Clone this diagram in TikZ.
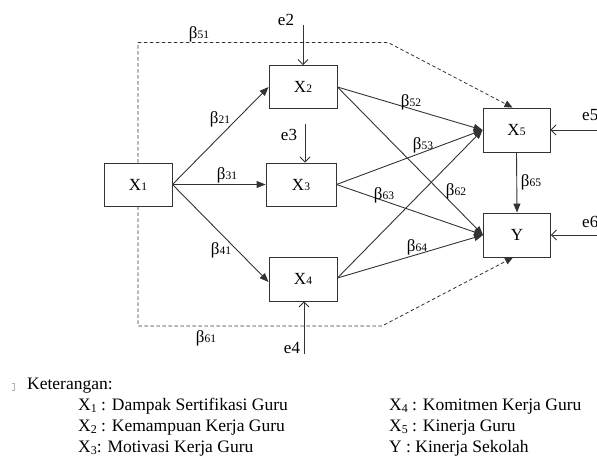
\documentclass[tikz,border=0pt]{standalone}
\usepackage{fontspec}
\setmainfont{Liberation Serif}
\usetikzlibrary{arrows.meta}
% small digits used as indices in the diagram
\newcommand\sn[1]{{\fontsize{11.5}{11.5}\selectfont #1}}
\newcommand\bt[1]{β\sn{#1}}
% lowered index for the legend
\newcommand\ix[1]{\raisebox{-2pt}{{\fontsize{12}{12}\selectfont #1}}}
% legend font
\newcommand\legfont{\fontsize{17.5}{17.5}\selectfont}
\begin{document}
\begin{tikzpicture}[x=1pt,y=-1pt,
  var/.style={draw=black!80, line width=0.9pt, minimum width=68pt, minimum height=43pt,
              inner sep=0pt, font=\fontsize{17}{17}\selectfont},
  path/.style={draw=black!80, line width=0.9pt, -{Triangle[length=9pt,width=7pt]}},
  err/.style={draw=black!80, line width=0.8pt, -{Straight Barb[length=5pt,width=10pt]}},
  lnk/.style={draw=black!80, line width=0.8pt, dash pattern=on 3.5pt off 2.5pt,
              -{Triangle[length=8pt,width=7pt]}},
  lab/.style={font=\fontsize{17}{17}\selectfont, inner sep=0pt},
  leg/.style={font=\legfont, inner sep=0pt, anchor=base west},
]
\useasboundingbox (0,0) rectangle (597,457);

% variables
\node[var] (X1) at (138,184.5) {X\sn{1}};
\node[var] (X2) at (303,87) {X\sn{2}};
\node[var, minimum width=70pt] (X3) at (301,184.5) {X\sn{3}};
\node[var, minimum height=44pt] (X4) at (303,279) {X\sn{4}};
\node[var, minimum width=67pt, minimum height=44pt] (X5) at (516.5,130) {X\sn{5}};
\node[var, minimum width=67pt, minimum height=44pt] (Y) at (517,235) {Y};

% error terms
\node[lab] (e2) at (286,20) {e2};
\node[lab] (e3) at (289,135) {e3};
\node[lab] (e4) at (292,348) {e4};
\node[lab, anchor=west] (e5) at (582,115) {e5};
\node[lab, anchor=west] (e6) at (582,222) {e6};
\coordinate (e2s) at (303,25);
\coordinate (e3s) at (305,124);
\coordinate (e4s) at (304,354);
\coordinate (e5s) at (597,130);
\coordinate (e6s) at (597,235);
\draw[err] (e2s) -- (e2s |- X2.north);
\draw[err] (e3s) -- (e3s |- X3.north);
\draw[err] (e4s) -- (e4s |- X4.south);
\draw[err] (e5s) -- (X5.east);
\draw[err] (e6s) -- (Y.east);

% direct paths
\draw[path] (X1.east) -- (X2.west);
\draw[path] (X1.east) -- (X3.west);
\draw[path] (X1.east) -- ([yshift=-3pt]X4.west);
\draw[path] (X2.east) -- (X5.west);
\draw[path] (X2.east) -- (Y.west);
\draw[path] (X3.east) -- (X5.west);
\draw[path] (X3.east) -- (Y.west);
\draw[path] ([yshift=1pt]X4.east) -- (X5.west);
\draw[path] ([yshift=1pt]X4.east) -- (Y.west);
\draw[path] (X5.south) -- (Y.north);

% dashed links from X1
\coordinate (tb) at (388,42.5);
\coordinate (bb) at (382,326);
\draw[lnk] (X1.north) |- (tb) -- ([xshift=-4pt]X5.north);
\draw[lnk] (X1.south) |- (bb) -- ([xshift=-4pt]Y.south);

% coefficients
\node[lab] at (199,34) {\bt{51}};
\node[lab] at (220,119) {\bt{21}};
\node[lab] at (227,175) {\bt{31}};
\node[lab] at (221,250) {\bt{41}};
\node[lab] at (206,338) {\bt{61}};
\node[lab] at (411,102) {\bt{52}};
\node[lab] at (423,145) {\bt{53}};
\node[lab] at (384,195) {\bt{63}};
\node[lab] at (456,191) {\bt{62}};
\node[lab] at (417,247) {\bt{64}};
\node[lab] at (531,182) {\bt{65}};

% legend
\draw[black!30, line width=0.6pt] (12,383) -- (14,383) -- (14,390) -- (12,390);
\node[leg] (kt) at (27,389) {Keterangan:};
\node[leg] (l1) at (78,410) {X\ix{1} : Dampak Sertifikasi Guru};
\node[leg] (l2) at (78,431) {X\ix{2} : Kemampuan Kerja Guru};
\node[leg] (l3) at (78,452) {X\ix{3}: Motivasi Kerja Guru};
\node[leg] (l4) at (389,410) {X\ix{4} : Komitmen Kerja Guru};
\node[leg] (l5) at (389,431) {X\ix{5} : Kinerja Guru};
\node[leg] (l6) at (389,452) {Y : Kinerja Sekolah};
\end{tikzpicture}
\end{document}
